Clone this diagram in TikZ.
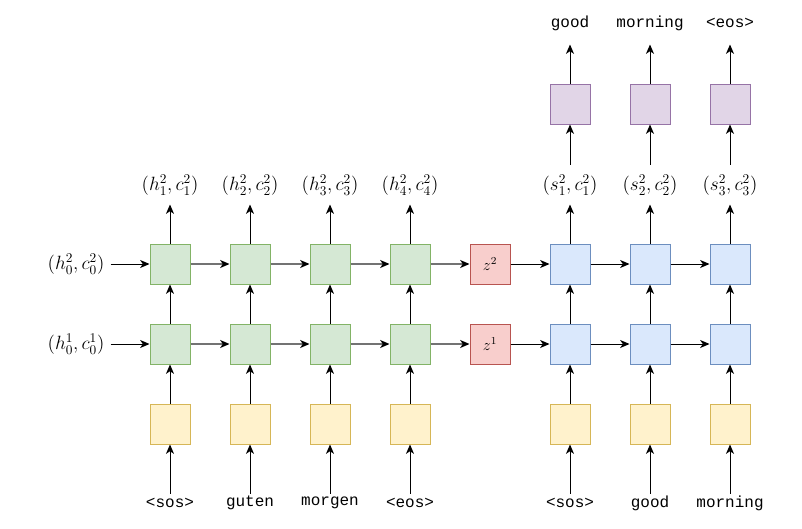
\documentclass[tikz,border=0pt]{standalone}
\usepackage{fontspec}
\newfontfamily\monofont{Liberation Mono}
\usetikzlibrary{arrows.meta}
\definecolor{gfill}{HTML}{D5E8D4}\definecolor{gdraw}{HTML}{82B366}
\definecolor{rfill}{HTML}{F8CECC}\definecolor{rdraw}{HTML}{B85450}
\definecolor{bfill}{HTML}{DAE8FC}\definecolor{bdraw}{HTML}{6C8EBF}
\definecolor{yfill}{HTML}{FFF2CC}\definecolor{ydraw}{HTML}{D6B656}
\definecolor{pfill}{HTML}{E1D5E7}\definecolor{pdraw}{HTML}{9673A6}
\tikzset{
  cell/.style={draw, minimum width=30pt, minimum height=30pt, inner sep=0pt, line width=0.75pt},
  gcell/.style={cell, fill=gfill, draw=gdraw},
  rcell/.style={cell, fill=rfill, draw=rdraw, font=\fontsize{12}{14}\selectfont},
  bcell/.style={cell, fill=bfill, draw=bdraw},
  ycell/.style={cell, fill=yfill, draw=ydraw},
  pcell/.style={cell, fill=pfill, draw=pdraw},
  word/.style={font=\monofont\fontsize{12}{14}\selectfont, inner sep=0pt},
  mlab/.style={font=\fontsize{14}{16}\selectfont, inner sep=0pt},
  arr/.style={-{Stealth[length=7pt,width=6pt,inset=2pt]}, line width=0.75pt, black},
  garr/.style={-{Stealth[length=7pt,width=6pt,inset=2pt,black]}, line width=1.1pt, black!55},
}
\begin{document}
\begin{tikzpicture}[x=0.75pt,y=-0.75pt]
\useasboundingbox (0,0) rectangle (802,528);
% encoder
\foreach \i/\x in {1/170,2/250,3/330,4/410}{
  \node[gcell] (t\i) at (\x,264) {};
  \node[gcell] (b\i) at (\x,344) {};
  \node[ycell] (y\i) at (\x,424) {};
  \node[mlab] (h\i) at (\x,185) {$(h^2_{\i},c^2_{\i})$};
}
\node[word] (w1) at (170,503) {<sos>};
\node[word] (w2) at (250,503) {guten};
\node[word] (w3) at (330,503) {morgen};
\node[word] (w4) at (410,503) {<eos>};
\node[mlab] (l2) at (76,264) {$(h^2_0,c^2_0)$};
\node[mlab] (l1) at (76,344) {$(h^1_0,c^1_0)$};
% z
\node[rcell] (z2) at (490,264) {$z^2$};
\node[rcell] (z1) at (490,344) {$z^1$};
% decoder
\foreach \i/\x in {1/570,2/650,3/730}{
  \node[bcell] (dt\i) at (\x,264) {};
  \node[bcell] (db\i) at (\x,344) {};
  \node[ycell] (dy\i) at (\x,424) {};
  \node[pcell] (p\i) at (\x,104) {};
  \node[mlab] (s\i) at (\x,185) {$(s^2_{\i},c^2_{\i})$};
}
\node[word] (dw1) at (570,503) {<sos>};
\node[word] (dw2) at (650,503) {good};
\node[word] (dw3) at (730,503) {morning};
\node[word] (o1) at (570,23) {good};
\node[word] (o2) at (650,23) {morning};
\node[word] (o3) at (730,23) {<eos>};
% vertical arrows
\foreach \i in {1,2,3,4}{
  \draw[arr] (y\i.south) ++(0,49) -- (y\i.south);
  \draw[arr] (y\i) -- (b\i);
  \draw[arr] (b\i) -- (t\i);
  \draw[arr] (t\i.north) -- ++(0,-39);
}
\foreach \i in {1,2,3}{
  \draw[arr] (dy\i.south) ++(0,49) -- (dy\i.south);
  \draw[arr] (dy\i) -- (db\i);
  \draw[arr] (db\i) -- (dt\i);
  \draw[arr] (dt\i.north) -- ++(0,-39);
  \draw[arr] (p\i.south) ++(0,40) -- (p\i.south);
  \draw[arr] (p\i.north) -- ++(0,-39);
}
% horizontal arrows
\draw[arr] (t1.west) ++(-39,0) -- (t1.west);
\draw[arr] (b1.west) ++(-39,0) -- (b1.west);
\foreach \a/\b in {t1/t2,t2/t3,t3/t4,t4/z2,b1/b2,b2/b3,b3/b4,b4/z1}{
  \draw[garr] (\a) -- (\b);
}
\foreach \a/\b in {z2/dt1,dt1/dt2,dt2/dt3,z1/db1,db1/db2,db2/db3}{
  \draw[arr] (\a) -- (\b);
}
\end{tikzpicture}
\end{document}
